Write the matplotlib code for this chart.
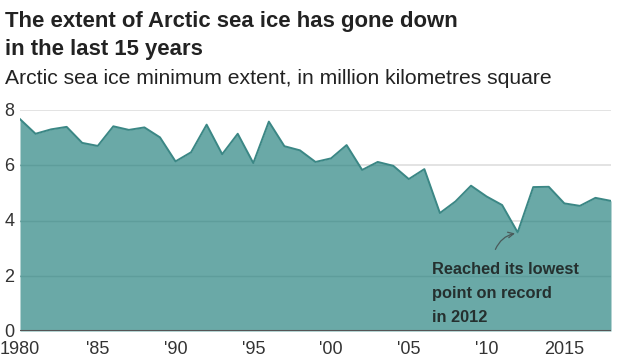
import matplotlib
matplotlib.use("Agg")
import matplotlib.pyplot as plt

years = list(range(1980, 2019))
extent = [7.67, 7.14, 7.30, 7.39, 6.81, 6.70, 7.41, 7.28, 7.37, 7.01,
          6.14, 6.47, 7.47, 6.40, 7.14, 6.08, 7.58, 6.69, 6.54, 6.12,
          6.25, 6.73, 5.83, 6.12, 5.98, 5.50, 5.86, 4.27, 4.69, 5.26,
          4.87, 4.56, 3.57, 5.21, 5.22, 4.62, 4.53, 4.82, 4.71]
xticks = [1980, 1985, 1990, 1995, 2000, 2005, 2010, 2015]
xticklabels = ["1980", "'85", "'90", "'95", "'00", "'05", "'10", "2015"]
yticks = [0, 2, 4, 6, 8]

plt.rcParams['font.family'] = ['Liberation Sans', 'DejaVu Sans']

fig = plt.figure(figsize=(6.39, 3.64), dpi=100)
ax = fig.add_axes([20/639, 1-331/364, (611-20)/639, (331-110)/364])

fill = ax.fill_between(years, extent, 0, color='#6aa9a7', lw=0, zorder=1)
ax.plot(years, extent, color='#3b8785', lw=1.4, zorder=3)
for y in yticks[1:]:
    ax.axhline(y, color='#dedede', lw=1.2, zorder=0)
    ln = ax.axhline(y, color='#5a9896', lw=1.0, zorder=2, alpha=0.7)
    ln.set_clip_path(fill.get_paths()[0], fill.get_transform())
ax.axhline(0, color='#555555', lw=1.5, zorder=4)

ax.set_xlim(1980, 2018)
ax.set_ylim(0, 8)
for s in ax.spines.values():
    s.set_visible(False)
ax.set_xticks(xticks)
ax.set_xticklabels(xticklabels)
ax.set_yticks([])
ax.tick_params(axis='x', length=0, pad=7, labelsize=13, labelcolor='#333333')
for y in yticks:
    ax.text(1979.0, y - 0.05, str(y), ha='left', va='center',
            fontsize=13, color='#333333', clip_on=False)

ax.annotate("", xy=(2012.0, 3.55), xytext=(2010.5, 2.86),
            arrowprops=dict(arrowstyle='->', color='#4a5a5a', lw=0.9,
                            connectionstyle='arc3,rad=-0.3'), zorder=5)
ax.text(2006.5, 2.5, "Reached its lowest\npoint on record\nin 2012", ha='left', va='top',
        fontsize=11.8, fontweight='bold', color='#25302f', linespacing=1.75, zorder=5)

fig.text(5/639, 1-27/364, "The extent of Arctic sea ice has gone down",
         ha='left', va='baseline', fontsize=15.9, fontweight='bold', color='#222222')
fig.text(5/639, 1-55/364, "in the last 15 years",
         ha='left', va='baseline', fontsize=15.9, fontweight='bold', color='#222222')
fig.text(5/639, 1-84/364, "Arctic sea ice minimum extent, in million kilometres square",
         ha='left', va='baseline', fontsize=15.2, color='#222222')

fig.savefig("out.png", dpi=100)
